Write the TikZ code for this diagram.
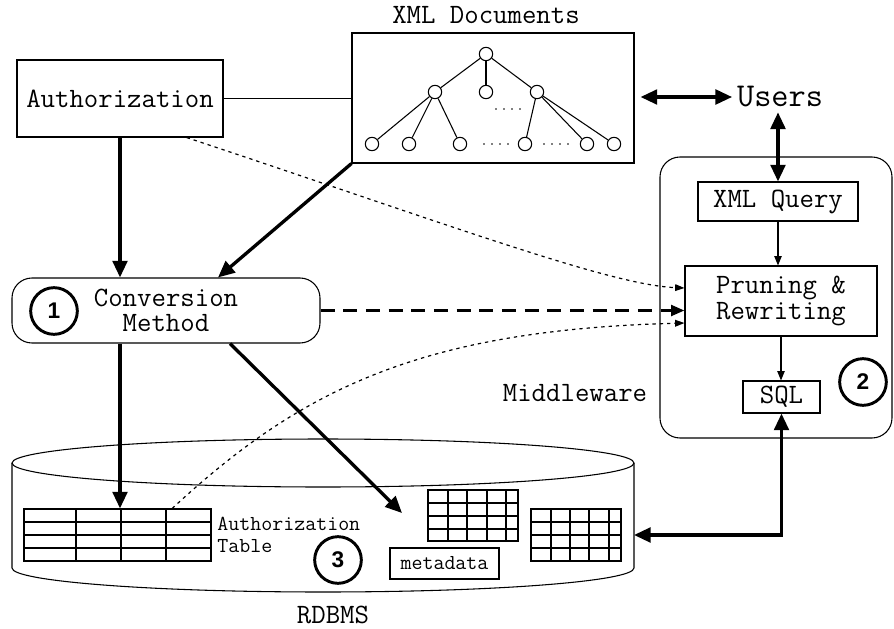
\documentclass[tikz,border=0pt]{standalone}
\usepackage{fontspec}
\newfontfamily\numfont{Liberation Sans}
\usetikzlibrary{arrows.meta,positioning,calc}
\tikzset{every picture/.style={line width=0.8pt}}
\tikzset{
  txt/.style={font=\fontsize{21}{19}\selectfont\ttfamily},
  smalltxt/.style={font=\fontsize{16}{16.5}\selectfont\ttfamily},
  bigtxt/.style={font=\fontsize{25}{26}\selectfont\ttfamily},
  box/.style={draw, txt, inner sep=0pt},
  grid/.style={draw, inner sep=0pt},
  tnode/.style={draw, circle, minimum size=10pt, inner sep=0pt},
  numcirc/.style={draw, circle, line width=2.2pt, minimum size=35pt, inner sep=0pt,
    font=\fontsize{17}{17}\selectfont\numfont\bfseries},
  heavy/.style={line width=2.5pt, -{Triangle[length=12.5pt,width=11pt]}},
  heavytwo/.style={line width=2.5pt, {Triangle[length=12.5pt,width=11pt]}-{Triangle[length=12.5pt,width=11pt]}},
  thinarr/.style={-{Triangle[length=7pt,width=5.5pt]}},
  dotarr/.style={line width=0.9pt, dash pattern=on 2.5pt off 3pt, -{Triangle[length=7pt,width=5pt]}},
  dasharr/.style={line width=2.2pt, dash pattern=on 10.5pt off 6.5pt, -{Triangle[length=10pt,width=8pt]}}
}

\begin{document}
\begin{tikzpicture}[x=0.75pt, y=-0.75pt]
    \useasboundingbox (0,0) rectangle (894,629);

    % 绘制 XML 文档
    \node[txt] (xmltitle) at (486,15) {XML Documents};
    \node[draw, minimum width=211.5pt, minimum height=97.5pt, inner sep=0pt] (xmldoc) at (493,98) {};
    \node[tnode] (t0) at (486,54) {};
    \node[tnode] (t1) at (435,92) {};
    \node[tnode] (t2) at (486,92) {};
    \node[tnode] (t3) at (537,92) {};
    \foreach \i/\x in {4/372,5/409,6/460,7/525,8/587,9/614}
        \node[tnode] (t\i) at (\x,144) {};
    \foreach \a/\b in {0/1,0/2,0/3,1/4,1/5,1/6,3/7,3/8,3/9}
        \draw (t\a) -- (t\b);
    \foreach \x in {496,504,512,520} \fill (\x,109) circle (0.7pt);
    \foreach \x in {484,492,500,508,544,552,560,568} \fill (\x,144) circle (0.7pt);

    % 绘制授权与转换方法
    \node[box, minimum width=154.5pt, minimum height=57.75pt] (auth) at (120,98.5) {Authorization};
    \node[box, rounded corners=15pt, minimum width=231pt, minimum height=48.75pt, align=center] (conv) at (166,310.5) {Conversion\\Method};
    \node[numcirc] (one) at (54,311) {1};

    % 绘制中间件
    \node[draw, rounded corners=15pt, minimum width=174pt, minimum height=210.75pt] (mid) at (776,297.5) {};
    \node[box, minimum width=120pt, minimum height=29.25pt] (query) at (778,201.5) {XML Query};
    \node[box, minimum width=144pt, minimum height=52.5pt, align=center] (prune) at (781,301) {Pruning \&\\Rewriting};
    \node[box, minimum width=57.75pt, minimum height=24pt] (sql) at (781.5,397) {SQL};
    \node[numcirc] (two) at (863,382) {2};
    \node[txt] (midlabel) at (575,393) {Middleware};
    \node[bigtxt] (users) at (780,97) {Users};

    % 绘制数据库
    \draw (323,463) ellipse [x radius=233.25pt, y radius=18pt];
    \draw (12,463) -- (12,568) arc[start angle=180, end angle=360, x radius=233.25pt, y radius=18pt] -- (634,463);
    \node[grid, minimum width=140.25pt, minimum height=39pt] (authtab) at (117.5,535) {};
    \foreach \x in {76,121,166} \draw (\x,509) -- (\x,561);
    \foreach \y in {522,535,548} \draw (24,\y) -- (211,\y);
    \node[smalltxt, align=left, inner sep=0pt, right=4pt of authtab] (tablabel) {Authorization\\Table};
    \node[grid, minimum width=67.5pt, minimum height=38.25pt] (tabtwo) at (473,515.5) {};
    \foreach \x in {448,467,487,506} \draw (\x,490) -- (\x,541);
    \foreach \y in {503,516,529} \draw (428,\y) -- (518,\y);
    \node[grid, minimum width=67.5pt, minimum height=39pt] (tabthree) at (576,535) {};
    \foreach \x in {551,570,589,609} \draw (\x,509) -- (\x,561);
    \foreach \y in {522,535,548} \draw (531,\y) -- (621,\y);
    \node[box, smalltxt, minimum width=81.75pt, minimum height=23.25pt] (meta) at (444.5,563.5) {metadata};
    \node[numcirc] (three) at (338,560) {3};
    \node[txt, inner sep=1pt] (rdbms) at (333,615) {RDBMS};
    \coordinate (dbright) at (634,535);
    \coordinate (metain) at (402,513);

    % 绘制连线
    \draw (auth.east) -- (auth.east -| xmldoc.west);
    \draw[heavy] (auth.south) -- (auth.south |- conv.north);
    \draw[heavy] (xmldoc.south west) -- ([xshift=39pt]conv.north);
    \draw[heavy] (conv.south -| auth.south) -- (authtab.north -| auth.south);
    \draw[heavy] ([xshift=48pt]conv.south) -- (metain);
    \draw[dasharr] (conv.east) -- (conv.east -| prune.west);
    \draw[dotarr] ([xshift=50pt]auth.south) .. controls (450,225) and (610,285) .. ([yshift=9.75pt]prune.west);
    \draw[dotarr] ([xshift=41pt]authtab.north) .. controls (300,390) and (420,330) .. ([yshift=-16.5pt]prune.west);
    \coordinate (uleft) at ([xshift=4.5pt]xmldoc.east);
    \draw[heavytwo] (uleft |- users.west) -- (users.west);
    \draw[heavytwo] (users.south -| query.north) -- (query.north);
    \draw[thinarr] (query.south) -- (query.south |- prune.north);
    \draw[thinarr] (prune.south) -- (prune.south |- sql.north);
    \draw[heavytwo] (sql.south) |- (dbright);
\end{tikzpicture}
\end{document}
